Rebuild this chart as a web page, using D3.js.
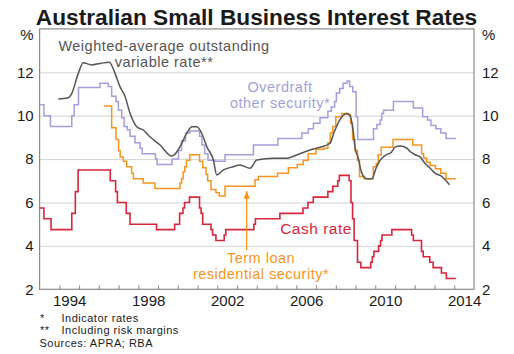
<!DOCTYPE html>
<html>
<head>
<meta charset="utf-8">
<script src="https://cdn.jsdelivr.net/npm/d3@7"></script>
<style>
  html, body { margin: 0; padding: 0; background: #fff; }
  svg { display: block; font-family: Arial, "Liberation Sans", sans-serif; }
</style>
</head>
<body>
<svg id="chart" width="514" height="354"></svg>
<script>
// ---------------- DATA ----------------
const xTickYears = [1994,1995,1996,1997,1998,1999,2000,2001,2002,2003,2004,2005,2006,2007,2008,2009,2010,2011,2012,2013,2014];
const xLabelYears = [1994, 1998, 2002, 2006, 2010, 2014];
const yTicks = [2, 4, 6, 8, 10, 12];

// Cash rate (step)
const cashDates = [1993.0,1993.22,1993.58,1994.63,1994.81,1994.95,1996.58,1996.85,1996.94,1997.39,1997.58,1998.92,1999.84,2000.09,2000.26,2000.34,2000.59,2001.10,2001.18,2001.26,2001.68,2001.76,2001.93,2002.35,2002.43,2003.85,2003.93,2005.17,2006.34,2006.59,2006.86,2007.60,2007.85,2008.10,2008.18,2008.68,2008.77,2008.85,2008.93,2009.10,2009.27,2009.77,2009.85,2009.93,2010.17,2010.27,2010.34,2010.84,2011.84,2011.93,2012.34,2012.43,2012.76,2012.93,2013.35,2013.60,2014.08];
const cashValues = [5.75,5.25,4.75,5.5,6.5,7.5,7.0,6.5,6.0,5.5,5.0,4.75,5.0,5.5,5.75,6.0,6.25,5.75,5.5,5.0,4.75,4.5,4.25,4.5,4.75,5.0,5.25,5.5,5.75,6.0,6.25,6.5,6.75,7.0,7.25,7.0,6.0,5.25,4.25,3.25,3.0,3.25,3.5,3.75,4.0,4.25,4.5,4.75,4.5,4.25,3.75,3.5,3.25,3.0,2.75,2.5,2.5];

// Overdraft, other security (step)
const odDates = [1993.0,1993.22,1993.55,1994.63,1994.75,1994.97,1996.06,1996.48,1996.65,1996.87,1996.99,1997.16,1997.28,1997.44,1997.58,1997.83,1998.09,1998.2,1998.87,1998.95,1999.71,2000.03,2000.19,2000.39,2000.6,2001.1,2001.22,2001.36,2001.53,2001.86,2002.39,2003.83,2005.07,2006.28,2006.61,2006.87,2007.2,2007.6,2007.77,2007.94,2008.03,2008.2,2008.37,2008.57,2008.7,2008.86,2009.03,2009.11,2009.91,2010.08,2010.25,2010.33,2010.42,2010.92,2011.93,2012.4,2012.65,2012.82,2013.07,2013.32,2013.58,2014.08];
const odValues = [10.5,10.0,9.5,10.0,10.5,11.3,11.5,11.35,10.9,10.65,10.25,9.9,9.5,9.35,9.05,8.75,8.5,8.25,8.0,7.75,8.0,8.4,8.85,9.2,9.3,9.05,8.65,8.25,7.95,7.9,8.2,8.65,8.95,9.2,9.4,9.65,9.9,10.2,10.4,10.65,11.05,11.25,11.5,11.6,11.35,11.1,9.95,8.9,9.4,9.6,9.8,10.1,10.25,10.65,10.35,9.95,9.8,9.55,9.4,9.2,8.95,8.95];

// Term loan, residential security (step)
const tlDates = [1996.26,1996.65,1996.87,1997.0,1997.08,1997.24,1997.41,1997.66,1997.75,1998.25,1998.84,2000.11,2000.19,2000.27,2000.35,2000.44,2000.61,2001.1,2001.26,2001.43,2001.51,2001.68,2001.93,2002.1,2002.39,2003.91,2004.08,2005.05,2005.6,2006.05,2006.35,2006.6,2007.0,2007.4,2007.6,2007.72,2007.85,2008.0,2008.3,2008.6,2008.75,2008.85,2008.97,2009.1,2009.2,2009.45,2009.9,2010.05,2010.15,2010.3,2010.9,2011.9,2012.35,2012.45,2012.6,2012.78,2013.05,2013.32,2013.58,2014.08];
const tlValues = [10.45,9.45,8.9,8.4,8.1,7.9,7.65,7.35,7.1,6.9,6.65,6.9,7.1,7.4,7.65,7.95,8.2,7.9,7.6,7.3,7.0,6.6,6.45,6.3,6.75,7.05,7.2,7.35,7.6,7.75,7.95,8.25,8.45,8.5,8.75,9.2,9.5,9.95,10.1,10.05,9.65,8.9,8.4,7.95,7.2,7.1,7.65,7.8,8.2,8.55,8.9,8.65,8.25,8.05,7.85,7.7,7.55,7.35,7.1,7.1];

// Weighted-average outstanding variable rate (smooth)
const waDates = [1993.95,1994.45,1994.63,1994.96,1995.21,1995.64,1996.06,1996.53,1996.82,1997.07,1997.33,1997.58,1997.92,1998.25,1998.59,1999.10,1999.69,1999.86,2000.11,2000.45,2000.71,2000.96,2001.21,2001.47,2001.80,2001.97,2002.31,2002.81,2003.15,2003.66,2004.0,2004.84,2005.52,2006.02,2006.70,2007.29,2007.71,2007.9,2008.2,2008.56,2008.72,2008.88,2008.98,2009.12,2009.3,2009.55,2009.82,2010.05,2010.25,2010.55,2010.8,2011.0,2011.26,2011.6,2011.76,2012.02,2012.27,2012.52,2012.78,2013.03,2013.37,2013.54,2013.76];
const waValues = [10.77,10.83,11.03,11.95,12.44,12.34,12.41,12.46,11.95,11.34,10.88,10.11,9.49,9.34,9.03,8.65,8.14,8.23,8.57,9.19,9.49,9.49,9.19,8.57,7.96,7.27,7.5,7.65,7.73,7.58,7.96,8.04,8.04,8.19,8.42,8.57,8.73,9.2,9.8,10.1,10.0,9.3,8.5,8.1,7.4,7.1,7.1,7.6,7.95,8.2,8.3,8.55,8.6,8.5,8.35,8.2,8.1,7.8,7.58,7.35,7.2,7.05,6.82];

// ---------------- CHART ----------------
(function () {
const svg = d3.select("#chart");
const pLeft = 39.6, pRight = 474, pTop = 28.9, pBottom = 289.3;

const x = d3.scaleLinear().domain([1993, 2015]).range([pLeft, pRight]);
const y = d3.scaleLinear().domain([2, 14]).range([pBottom, pTop]);

const colors = {
  cash: "#d7263c",
  od: "#a49fdb",
  tl: "#f7941d",
  wa: "#555555",
  grid: "#d4d4d4",
  axis: "#8a8a8a",
  text: "#1a1a1a"
};
const FONT = "Arial, 'Liberation Sans', sans-serif";

// Title
svg.append("text")
  .attr("x", 256.5).attr("y", 25)
  .attr("text-anchor", "middle")
  .attr("font-size", 22.7).attr("font-weight", "bold")
  .attr("fill", colors.text)
  .text("Australian Small Business Interest Rates");

// Gridlines
svg.append("g")
  .attr("transform", `translate(${pLeft},0)`)
  .call(d3.axisLeft(y).tickValues([4,6,8,10,12]).tickSize(-(pRight - pLeft)).tickFormat(""))
  .call(g => g.select(".domain").remove())
  .call(g => g.selectAll("line").attr("stroke", colors.grid).attr("stroke-width", 1));

// Left labels
svg.append("g")
  .attr("transform", `translate(${pLeft - 6},0)`)
  .call(d3.axisLeft(y).tickValues(yTicks).tickSize(0).tickPadding(0).tickFormat(d3.format("d")))
  .call(g => g.select(".domain").remove())
  .call(g => g.selectAll("text").attr("font-size", 15).attr("fill", colors.text).attr("font-family", FONT));

// Right labels
svg.append("g")
  .attr("transform", `translate(${pRight + 8},0)`)
  .call(d3.axisRight(y).tickValues(yTicks).tickSize(0).tickPadding(0).tickFormat(d3.format("d")))
  .call(g => g.select(".domain").remove())
  .call(g => g.selectAll("text").attr("font-size", 15).attr("fill", colors.text).attr("font-family", FONT));

// % labels
svg.append("text").attr("x", pLeft - 6).attr("y", 40).attr("text-anchor", "end")
  .attr("font-size", 15).attr("fill", colors.text).text("%");
svg.append("text").attr("x", pRight + 8).attr("y", 40).attr("text-anchor", "start")
  .attr("font-size", 15).attr("fill", colors.text).text("%");

// X ticks (inward)
svg.append("g")
  .attr("transform", `translate(0,${pBottom})`)
  .call(d3.axisBottom(x).tickValues(xTickYears).tickSize(-4).tickFormat(""))
  .call(g => g.select(".domain").remove())
  .call(g => g.selectAll("line").attr("stroke", colors.axis));

// X labels centered in year
svg.append("g")
  .attr("transform", `translate(0,${pBottom})`)
  .call(d3.axisBottom(x).tickValues(xLabelYears.map(d => d + 0.5)).tickSize(0).tickPadding(6)
    .tickFormat(d => String(Math.floor(d))))
  .call(g => g.select(".domain").remove())
  .call(g => g.selectAll("text").attr("font-size", 15).attr("fill", colors.text).attr("font-family", FONT));

// Frame
svg.append("rect")
  .attr("x", pLeft).attr("y", pTop).attr("width", pRight - pLeft).attr("height", pBottom - pTop)
  .attr("fill", "none").attr("stroke", colors.axis).attr("stroke-width", 1.2);

// Lines
const stepLine = d3.line().x(d => x(d[0])).y(d => y(d[1])).curve(d3.curveStepAfter);
const smoothLine = d3.line().x(d => x(d[0])).y(d => y(d[1])).curve(d3.curveMonotoneX);
const zip = (a, b) => a.map((d, i) => [d, b[i]]);

svg.append("path").datum(zip(odDates, odValues))
  .attr("d", stepLine).attr("fill", "none").attr("stroke", colors.od).attr("stroke-width", 1.5);
svg.append("path").datum(zip(tlDates, tlValues))
  .attr("d", stepLine).attr("fill", "none").attr("stroke", colors.tl).attr("stroke-width", 1.5);
svg.append("path").datum(zip(waDates, waValues))
  .attr("d", smoothLine).attr("fill", "none").attr("stroke", colors.wa).attr("stroke-width", 1.5);
svg.append("path").datum(zip(cashDates, cashValues))
  .attr("d", stepLine).attr("fill", "none").attr("stroke", colors.cash).attr("stroke-width", 1.6);

// Annotations
function label(lines, cx, y0, dy, color, fs) {
  lines.forEach((s, i) =>
    svg.append("text").attr("text-anchor", "middle").attr("font-size", fs || 14.5)
      .attr("letter-spacing", 0.5).attr("fill", color)
      .attr("x", cx).attr("y", y0 + i * dy).text(s));
}
label(["Weighted-average outstanding", "variable rate**"], 164, 51, 16.3, "#555555");
label(["Overdraft", "other security*"], 280, 91.5, 16.3, colors.od);
label(["Term loan", "residential security*"], 261, 262.5, 16.3, colors.tl);
label(["Cash rate"], 316, 234, 16.3, colors.cash, 15.5);

// Arrow
svg.append("defs").append("marker")
  .attr("id", "arr").attr("viewBox", "0 0 10 10").attr("refX", 10).attr("refY", 5)
  .attr("markerWidth", 6).attr("markerHeight", 6).attr("orient", "auto")
  .append("path").attr("d", "M0,1 L10,5 L0,9 Z").attr("fill", colors.tl);
svg.append("line")
  .attr("x1", 246.7).attr("y1", 250).attr("x2", 246.7).attr("y2", 191)
  .attr("stroke", colors.tl).attr("stroke-width", 1.3).attr("marker-end", "url(#arr)");

// Footnotes
const fn = svg.append("g").attr("font-size", 11).attr("letter-spacing", 0.5).attr("fill", colors.text);
fn.append("text").attr("x", 40).attr("y", 322).text("*");
fn.append("text").attr("x", 61.5).attr("y", 322).text("Indicator rates");
fn.append("text").attr("x", 40).attr("y", 334.3).text("**");
fn.append("text").attr("x", 61.5).attr("y", 334.3).text("Including risk margins");
fn.append("text").attr("x", 39.5).attr("y", 346.6).text("Sources: APRA; RBA");
})();
</script>
</body>
</html>
